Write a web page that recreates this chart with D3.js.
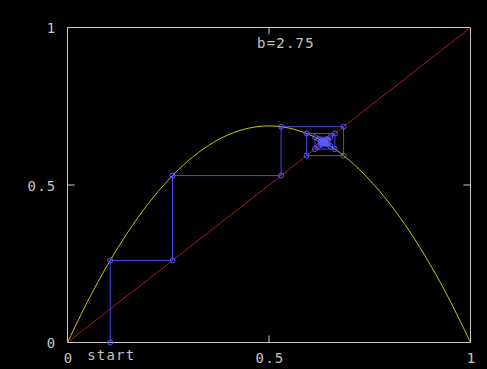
<!DOCTYPE html>
<html><head><meta charset="utf-8">
<script src="https://cdn.jsdelivr.net/npm/d3@7"></script>
<style>html,body{margin:0;padding:0;background:#000;}</style>
</head><body>
<script>
const bParam = "b=2.75";
const tickValues = [0, 0.5, 1];
const tickLabels = ["0", "0.5", "1"];
const curveX = [0,0.05,0.1,0.15,0.2,0.25,0.3,0.35,0.4,0.45,0.5,0.55,0.6,0.65,0.7,0.75,0.8,0.85,0.9,0.95,1];
const curveY = [0,0.1306,0.2475,0.3506,0.44,0.5156,0.5775,0.6256,0.66,0.6806,0.6875,0.6806,0.66,0.6256,0.5775,0.5156,0.44,0.3506,0.2475,0.1306,0];
const diagX = [0, 1];
const diagY = [0, 1];
const iterates = [0.106,0.2606,0.5299,0.6850,0.5933,0.6635,0.6140,0.6518,0.6241,0.6451,0.6296,0.6413,0.6326,0.6392,0.6343,0.6379,0.6352,0.6373,0.6357,0.6369,0.6360,0.6366,0.6362,0.6365,0.6363,0.6365,0.6363,0.6364,0.6363,0.6364,0.6364];

const W = 487, H = 369;
const svg = d3.select("body").append("svg").attr("width", W).attr("height", H)
  .style("background", "#000");
const x = d3.scaleLinear().domain([0, 1]).range([67.5, 470.5]);
const y = d3.scaleLinear().domain([0, 1]).range([342.5, 27.5]);
const axisColor = "#c8c8c8";
const font = "'DejaVu Sans Mono', monospace";

// frame
svg.append("rect").attr("x", x(0)).attr("y", y(1))
  .attr("width", x(1) - x(0)).attr("height", y(0) - y(1))
  .attr("fill", "none").attr("stroke", axisColor).attr("stroke-width", 1);

// ticks (inward)
const tl = 7;
tickValues.forEach(v => {
  svg.append("line").attr("x1", x(v)).attr("x2", x(v)).attr("y1", y(0)).attr("y2", y(0) - tl).attr("stroke", axisColor);
  svg.append("line").attr("x1", x(v)).attr("x2", x(v)).attr("y1", y(1)).attr("y2", y(1) + tl).attr("stroke", axisColor);
  svg.append("line").attr("y1", y(v)).attr("y2", y(v)).attr("x1", x(0)).attr("x2", x(0) + tl).attr("stroke", axisColor);
  svg.append("line").attr("y1", y(v)).attr("y2", y(v)).attr("x1", x(1)).attr("x2", x(1) - tl).attr("stroke", axisColor);
});

function txt(str, px, py, anchor) {
  svg.append("text").attr("x", px).attr("y", py).attr("text-anchor", anchor)
    .attr("fill", "#c4c4c4").attr("font-family", font).attr("font-size", 14)
    .attr("letter-spacing", "1.2px").text(str);
}
tickValues.forEach((v, i) => {
  txt(tickLabels[i], x(v) + 1, 363, "middle");
  txt(tickLabels[i], x(0) - 11, y(v) + 5.5, "end");
});
txt("start", x(iterates[0]) + 1, 360, "middle");
txt(bParam, 286, 48, "middle");

// diagonal
svg.append("path").datum(diagX.map((d, i) => [d, diagY[i]]))
  .attr("d", d3.line().x(d => x(d[0])).y(d => y(d[1])))
  .attr("fill", "none").attr("stroke", "#b01818").attr("stroke-width", 1);

// logistic curve
svg.append("path").datum(curveX.map((d, i) => [d, curveY[i]]))
  .attr("d", d3.line().x(d => x(d[0])).y(d => y(d[1])).curve(d3.curveCardinal.tension(0)))
  .attr("fill", "none").attr("stroke", "#c8c800").attr("stroke-width", 1);

// cobweb
const pts = [[iterates[0], 0]];
for (let i = 0; i < iterates.length - 1; i++) {
  pts.push([iterates[i], iterates[i + 1]]);
  pts.push([iterates[i + 1], iterates[i + 1]]);
}
svg.append("path").datum(pts)
  .attr("d", d3.line().x(d => x(d[0])).y(d => y(d[1])))
  .attr("fill", "none").attr("stroke", "#4848e8").attr("stroke-width", 1);
svg.selectAll("circle.m").data(pts).enter().append("circle")
  .attr("cx", d => x(d[0])).attr("cy", d => y(d[1])).attr("r", 2.5)
  .attr("fill", "none").attr("stroke", "#5a5aff").attr("stroke-width", 1);
</script>
</body></html>
